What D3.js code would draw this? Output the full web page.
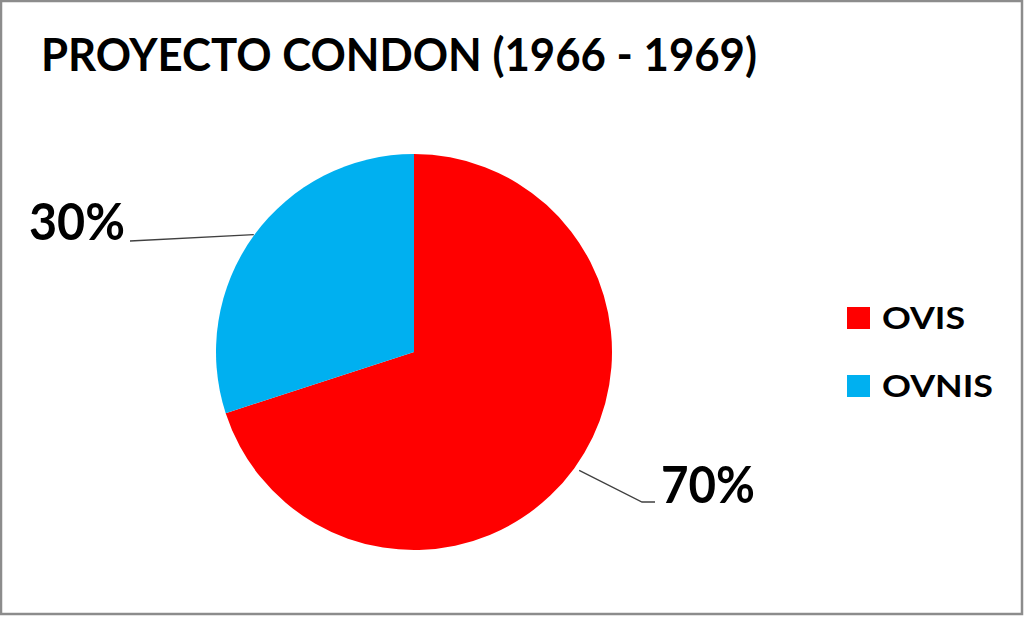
<!DOCTYPE html>
<html><head><meta charset="utf-8">
<script src="https://cdn.jsdelivr.net/npm/d3@7/dist/d3.min.js"></script>
<style>html,body{margin:0;padding:0;background:#fff;}svg{display:block;}</style>
</head><body>
<script>
const categories = ["OVIS", "OVNIS"];
const values = [70, 30];
const colors = ["#FF0000", "#00B0F0"];
const labels = ["70%", "30%"];
const title = "PROYECTO CONDON (1966 - 1969)";

const W = 1024, H = 617;
const svg = d3.select("body").append("svg").attr("width", W).attr("height", H);
const font = "Lato, 'Open Sans', sans-serif";

svg.append("rect").attr("x", 1).attr("y", 1).attr("width", W - 3).attr("height", H - 4)
  .attr("fill", "#fff").attr("stroke", "#8c8c8c").attr("stroke-width", 2.5);

svg.append("text").attr("x", 41).attr("y", 71).text(title)
  .attr("font-family", font).attr("font-weight", "bold").attr("font-size", 46)
  .attr("textLength", 716).attr("lengthAdjust", "spacingAndGlyphs").attr("fill", "#000");

const cx = 414, cy = 352, R = 198;
const pie = d3.pie().sort(null).value(d => d)(values);
const arc = d3.arc().innerRadius(0).outerRadius(R);
const g = svg.append("g").attr("transform", `translate(${cx},${cy})`);
g.selectAll("path").data(pie).join("path").attr("d", arc).attr("fill", (d, i) => colors[i]);

// leader lines & labels
const outer = d3.arc().innerRadius(R).outerRadius(R);
// 70%
const p70 = outer.centroid(pie[0]);
svg.append("polyline")
  .attr("points", [[cx + p70[0] + 5, cy + p70[1] + 2], [642, 502], [655, 502]].map(p => p.join(",")).join(" "))
  .attr("fill", "none").attr("stroke", "#404040").attr("stroke-width", 1.3);
svg.append("text").attr("x", 661).attr("y", 503).text(labels[0])
  .attr("font-family", font).attr("font-weight", "bold").attr("font-size", 51)
  .attr("textLength", 94).attr("lengthAdjust", "spacingAndGlyphs");
// 30%
const p30 = outer.centroid(pie[1]);
svg.append("polyline")
  .attr("points", [[cx + p30[0], cy + p30[1] - 1], [130, 241]].map(p => p.join(",")).join(" "))
  .attr("fill", "none").attr("stroke", "#404040").attr("stroke-width", 1.3);
svg.append("text").attr("x", 29).attr("y", 240).text(labels[1])
  .attr("font-family", font).attr("font-weight", "bold").attr("font-size", 51)
  .attr("textLength", 96).attr("lengthAdjust", "spacingAndGlyphs");

// legend
const leg = svg.append("g");
const ly = [307, 375];
const lw = [83, 111];
categories.forEach((c, i) => {
  leg.append("rect").attr("x", 847).attr("y", ly[i]).attr("width", 23).attr("height", 22).attr("fill", colors[i]);
  leg.append("text").attr("x", 882).attr("y", ly[i] + 22).text(c)
    .attr("font-family", font).attr("font-weight", "bold").attr("font-size", 31)
    .attr("textLength", lw[i]).attr("lengthAdjust", "spacingAndGlyphs");
});
</script>
</body></html>
